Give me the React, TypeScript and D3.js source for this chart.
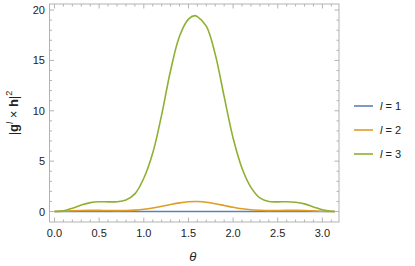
import React from 'react';
import * as d3 from 'd3';

// theta samples and |g^l x h|^2 readings for each l
const thetas = [0, 0.1, 0.2, 0.3, 0.4, 0.5, 0.6, 0.7, 0.8, 0.9, 1.0, 1.1, 1.2, 1.3, 1.4, 1.5, 1.5708,
  1.6, 1.7, 1.8, 1.9, 2.0, 2.1, 2.2, 2.3, 2.4, 2.5, 2.6, 2.7, 2.8, 2.9, 3.0, 3.1, 3.1416];

const l1 = [0, 0, 0, 0, 0, 0, 0, 0, 0, 0, 0, 0, 0, 0, 0, 0, 0,
  0, 0, 0, 0, 0, 0, 0, 0, 0, 0, 0, 0, 0, 0, 0, 0, 0];

const l2 = [0, 0.03, 0.07, 0.1, 0.11, 0.11, 0.1, 0.09, 0.1, 0.14, 0.22, 0.35, 0.52, 0.7, 0.86, 0.97, 1.0,
  0.99, 0.92, 0.78, 0.6, 0.42, 0.27, 0.17, 0.12, 0.09, 0.1, 0.11, 0.11, 0.1, 0.06, 0.02, 0.0, 0];

const l3 = [0, 0.08, 0.33, 0.65, 0.88, 0.97, 0.96, 0.97, 1.15, 1.75, 3.3, 5.8, 9.6, 14.0, 17.4, 19.1, 19.45,
  19.35, 18.4, 15.6, 11.4, 7.3, 4.3, 2.4, 1.35, 1.0, 0.96, 0.97, 0.92, 0.76, 0.46, 0.17, 0.02, 0];

const seriesNames = ['1', '2', '3'];
const seriesColors = ['#5E81B5', '#E19C24', '#8FB032'];

const xMajor = [0, 0.5, 1.0, 1.5, 2.0, 2.5, 3.0];
const yMajor = [0, 5, 10, 15, 20];

const W = 415;
const H = 266;
const frame = { left: 49.5, right: 339, top: 4, bottom: 222 };
const frameColor = '#b3b3b3';
const font = '"Liberation Sans", Arial, sans-serif';

export default function App() {
  const x = d3.scaleLinear().domain([-0.056, 3.186]).range([frame.left, frame.right]);
  const y = d3.scaleLinear().domain([-1.04, 20.6]).range([frame.bottom, frame.top]);

  const line = d3.line<number>()
    .x((d, i) => x(thetas[i]))
    .y(d => y(d))
    .curve(d3.curveCatmullRom.alpha(0.5));

  const series = [l1, l2, l3];

  const xMinor = d3.range(0, 32).map(i => i / 10).filter(v => !xMajor.some(m => Math.abs(m - v) < 1e-6));
  const yMinor = d3.range(0, 21).filter(v => v % 5 !== 0);

  const majorLen = 4.5;
  const minorLen = 2.5;

  return (
    <svg width={W} height={H} style={{ position: 'absolute', left: 0, top: 0, background: 'white' }}>
      <defs>
        <clipPath id="clip">
          <rect x={frame.left} y={frame.top} width={frame.right - frame.left} height={frame.bottom - frame.top} />
        </clipPath>
      </defs>

      {/* curves */}
      <g clipPath="url(#clip)">
        {series.map((s, i) => (
          <path key={i} d={line(s) || ''} fill="none" stroke={seriesColors[i]} strokeWidth={1.6} />
        ))}
      </g>

      {/* frame */}
      <rect x={frame.left} y={frame.top} width={frame.right - frame.left} height={frame.bottom - frame.top}
        fill="none" stroke={frameColor} strokeWidth={1} />

      {/* x ticks bottom & top */}
      {xMajor.map(v => (
        <g key={'xM' + v} stroke={frameColor}>
          <line x1={x(v)} x2={x(v)} y1={frame.bottom} y2={frame.bottom - majorLen} />
          <line x1={x(v)} x2={x(v)} y1={frame.top} y2={frame.top + majorLen} />
        </g>
      ))}
      {xMinor.map(v => (
        <g key={'xm' + v} stroke={frameColor}>
          <line x1={x(v)} x2={x(v)} y1={frame.bottom} y2={frame.bottom - minorLen} />
          <line x1={x(v)} x2={x(v)} y1={frame.top} y2={frame.top + minorLen} />
        </g>
      ))}
      {/* y ticks left & right */}
      {yMajor.map(v => (
        <g key={'yM' + v} stroke={frameColor}>
          <line x1={frame.left} x2={frame.left + majorLen} y1={y(v)} y2={y(v)} />
          <line x1={frame.right} x2={frame.right - majorLen} y1={y(v)} y2={y(v)} />
        </g>
      ))}
      {yMinor.map(v => (
        <g key={'ym' + v} stroke={frameColor}>
          <line x1={frame.left} x2={frame.left + minorLen} y1={y(v)} y2={y(v)} />
          <line x1={frame.right} x2={frame.right - minorLen} y1={y(v)} y2={y(v)} />
        </g>
      ))}

      {/* tick labels */}
      {xMajor.map(v => (
        <text key={'xl' + v} x={x(v)} y={237} textAnchor="middle" fontFamily={font} fontSize={11} fill="#222">
          {v.toFixed(1)}
        </text>
      ))}
      {yMajor.map(v => (
        <text key={'yl' + v} x={45} y={y(v) + 4} textAnchor="end" fontFamily={font} fontSize={11} fill="#222">
          {v}
        </text>
      ))}

      {/* axis labels */}
      <text x={x(Math.PI / 2) - 2} y={261} textAnchor="middle" fontFamily={font} fontSize={13} fontStyle="italic" fill="#222">θ</text>
      <text transform="translate(18,113) rotate(-90)" textAnchor="middle" fontFamily={font} fontSize={13} fill="#222">
        <tspan>|</tspan>
        <tspan fontWeight="bold">g</tspan>
        <tspan fontStyle="italic" fontSize={9} dy={-5}>l</tspan>
        <tspan dy={5}> × </tspan>
        <tspan fontWeight="bold">h</tspan>
        <tspan>|</tspan>
        <tspan fontSize={9} dy={-6}>2</tspan>
      </text>

      {/* legend */}
      {seriesNames.map((n, i) => (
        <g key={'lg' + n} transform={`translate(0,${106 + i * 24})`}>
          <line x1={354} x2={373} y1={0} y2={0} stroke={seriesColors[i]} strokeWidth={1.6} />
          <text x={380} y={4} fontFamily={font} fontSize={11} fill="#222">
            <tspan fontStyle="italic">l</tspan>
            <tspan> = {n}</tspan>
          </text>
        </g>
      ))}
    </svg>
  );
}
